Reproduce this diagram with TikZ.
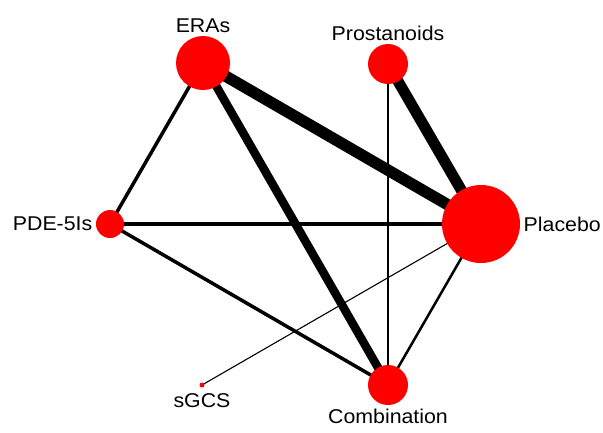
\documentclass[tikz,border=0pt]{standalone}
\usepackage{fontspec}
\setmainfont{Liberation Sans}[FakeStretch=1.07]
\usetikzlibrary{backgrounds}
\begin{document}
\begin{tikzpicture}
[x=1bp, y=-1bp, font=\fontsize{20}{24}\selectfont]
\tikzstyle{vertex}=[circle, fill=red, inner sep=0mm]
\useasboundingbox (0,0) rectangle (603,432);
\node[vertex, minimum size=54bp]	(ERAs)	at (203,63)  [label=above:{ERAs}]{};
\node[vertex, minimum size=40bp]	(Pros)	at (388,64)  [label=above:{Prostanoids}]{};
\node[vertex, minimum size=78bp]	(Plac)	at (481,224) [label=right:{Placebo}]{};
\node[vertex, minimum size=28bp]	(PDE)	at (110,224) [label=left:{PDE-5Is}]{};
\node[vertex, minimum size=5bp]	(sGCS)	at (202,385) [label={[label distance=2bp]below:{sGCS}}]{};
\node[vertex, minimum size=40bp]	(Comb)	at (388,385) [label=below:{Combination}]{};

\begin{pgfonlayer}{background}
\draw [line width=11.5bp] (ERAs.center)--(Plac.center);
\draw [line width=11bp] (Pros.center)--(Plac.center);
\draw [line width=8.5bp] (ERAs.center)--(Comb.center);
\draw [line width=3.5bp] (PDE.center)--(ERAs.center);
\draw [line width=3.5bp] (PDE.center)--(Plac.center);
\draw [line width=3.5bp] (PDE.center)--(Comb.center);
\draw [line width=2.5bp] (Plac.center)--(Comb.center);
\draw [line width=1.8bp] (Pros.center)--(Comb.center);
\draw [line width=1.1bp] (sGCS.center)--(Plac.center);
\end{pgfonlayer}

\end{tikzpicture}
\end{document}
